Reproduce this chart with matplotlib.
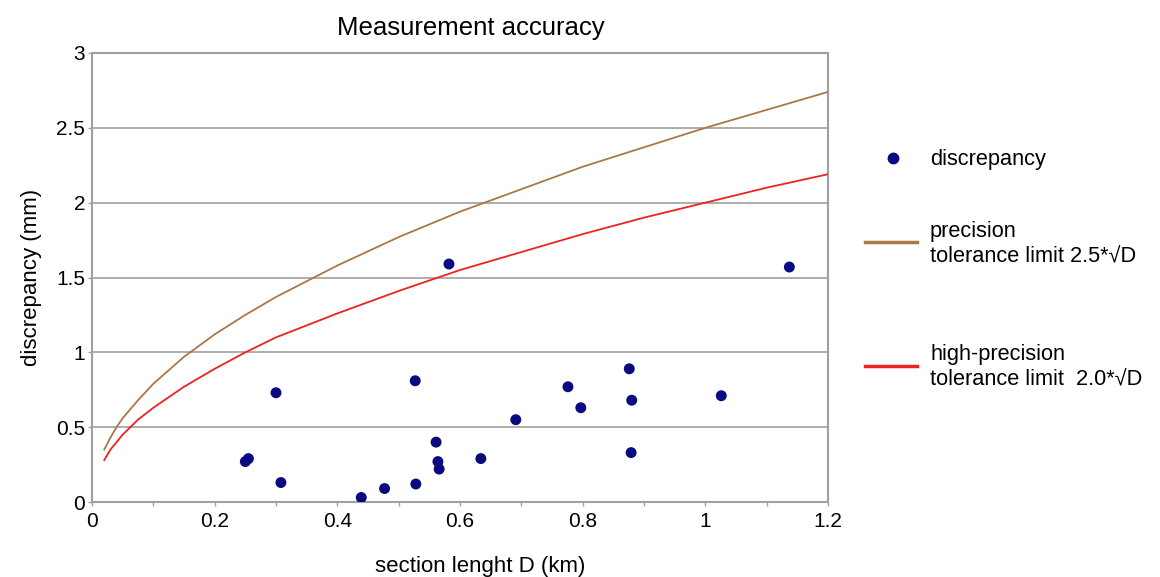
import matplotlib.pyplot as plt
from matplotlib.lines import Line2D

# Measured discrepancies (section length D in km, discrepancy in mm)
section_km = [0.250, 0.255, 0.300, 0.308, 0.439, 0.477, 0.527, 0.528, 0.561,
              0.564, 0.566, 0.582, 0.634, 0.691, 0.776, 0.797, 0.876, 0.879,
              0.880, 1.026, 1.137]
discrepancy_mm = [0.27, 0.29, 0.73, 0.13, 0.03, 0.09, 0.81, 0.12, 0.40,
                  0.27, 0.22, 1.59, 0.29, 0.55, 0.77, 0.63, 0.89, 0.33,
                  0.68, 0.71, 1.57]

# Tolerance limit curves
limit_d = [0.02, 0.03, 0.04, 0.05, 0.075, 0.1, 0.125, 0.15, 0.2, 0.25, 0.3,
           0.4, 0.5, 0.6, 0.7, 0.8, 0.9, 1.0, 1.1, 1.2]
precision_limit = [0.35, 0.43, 0.50, 0.56, 0.68, 0.79, 0.88, 0.97, 1.12,
                   1.25, 1.37, 1.58, 1.77, 1.94, 2.09, 2.24, 2.37, 2.50,
                   2.62, 2.74]
high_precision_limit = [0.28, 0.35, 0.40, 0.45, 0.55, 0.63, 0.70, 0.77,
                        0.89, 1.00, 1.10, 1.26, 1.41, 1.55, 1.67, 1.79,
                        1.90, 2.00, 2.10, 2.19]

x_ticks = [0, 0.2, 0.4, 0.6, 0.8, 1, 1.2]
x_tick_labels = ['0', '0.2', '0.4', '0.6', '0.8', '1', '1.2']
y_ticks = [0, 0.5, 1, 1.5, 2, 2.5, 3]
y_tick_labels = ['0', '0.5', '1', '1.5', '2', '2.5', '3']

brown = '#a97848'
red = '#ee2222'
navy = '#0a0a80'
gray = '#a0a0a0'

plt.rcParams['font.family'] = ['Liberation Sans', 'DejaVu Sans']

fig = plt.figure(figsize=(11.6, 5.77), dpi=100)
ax = fig.add_axes([92 / 1160, 75 / 577, 736 / 1160, 449 / 577])

ax.plot(limit_d, precision_limit, color=brown, lw=1.3, zorder=3)
ax.plot(limit_d, high_precision_limit, color=red, lw=1.3, zorder=3)
ax.scatter(section_km, discrepancy_mm, s=62, color=navy, zorder=4,
           edgecolors='none')

ax.set_xlim(0, 1.2)
ax.set_ylim(0, 3)
ax.set_xticks(x_ticks, x_tick_labels)
ax.set_xticks([0.1, 0.3, 0.5, 0.7, 0.9, 1.1], minor=True)
ax.set_yticks(y_ticks, y_tick_labels)
ax.grid(axis='y', color=gray, lw=1.2)
ax.set_axisbelow(True)
for side in ax.spines.values():
    side.set_color(gray)
    side.set_linewidth(1.5)
ax.tick_params(axis='both', which='both', colors=gray, labelcolor='black',
               labelsize=15, length=3, width=1)
ax.tick_params(axis='y', pad=2)
ax.tick_params(axis='x', pad=4)

ax.set_title('Measurement accuracy', fontsize=18.5, pad=13, x=0.515)
ax.set_xlabel('section lenght D (km)', fontsize=16, labelpad=18, x=0.527)
ax.set_ylabel('discrepancy (mm)', fontsize=16, labelpad=10)

# Legend drawn to the right of the plot
def fx(px):
    return px / 1160

def fy(py):
    return 1 - py / 577

fig.add_artist(Line2D([fx(893)], [fy(158)], marker='o', markersize=7.5,
                      color=navy, linestyle='none'))
fig.text(fx(930), fy(160), 'discrepancy', fontsize=15.7, va='center')
fig.add_artist(Line2D([fx(865), fx(917)], [fy(242), fy(242)], color=brown,
                      lw=2.5))
fig.text(fx(930), fy(244), 'precision\ntolerance limit 2.5*\u221aD',
         fontsize=15.7, va='center', linespacing=1.25)
fig.add_artist(Line2D([fx(865), fx(917)], [fy(366), fy(366)], color=red,
                      lw=2.5))
fig.text(fx(930), fy(367), 'high-precision\ntolerance limit  2.0*\u221aD',
         fontsize=15.7, va='center', linespacing=1.25)

fig.savefig('out.png', dpi=100)
